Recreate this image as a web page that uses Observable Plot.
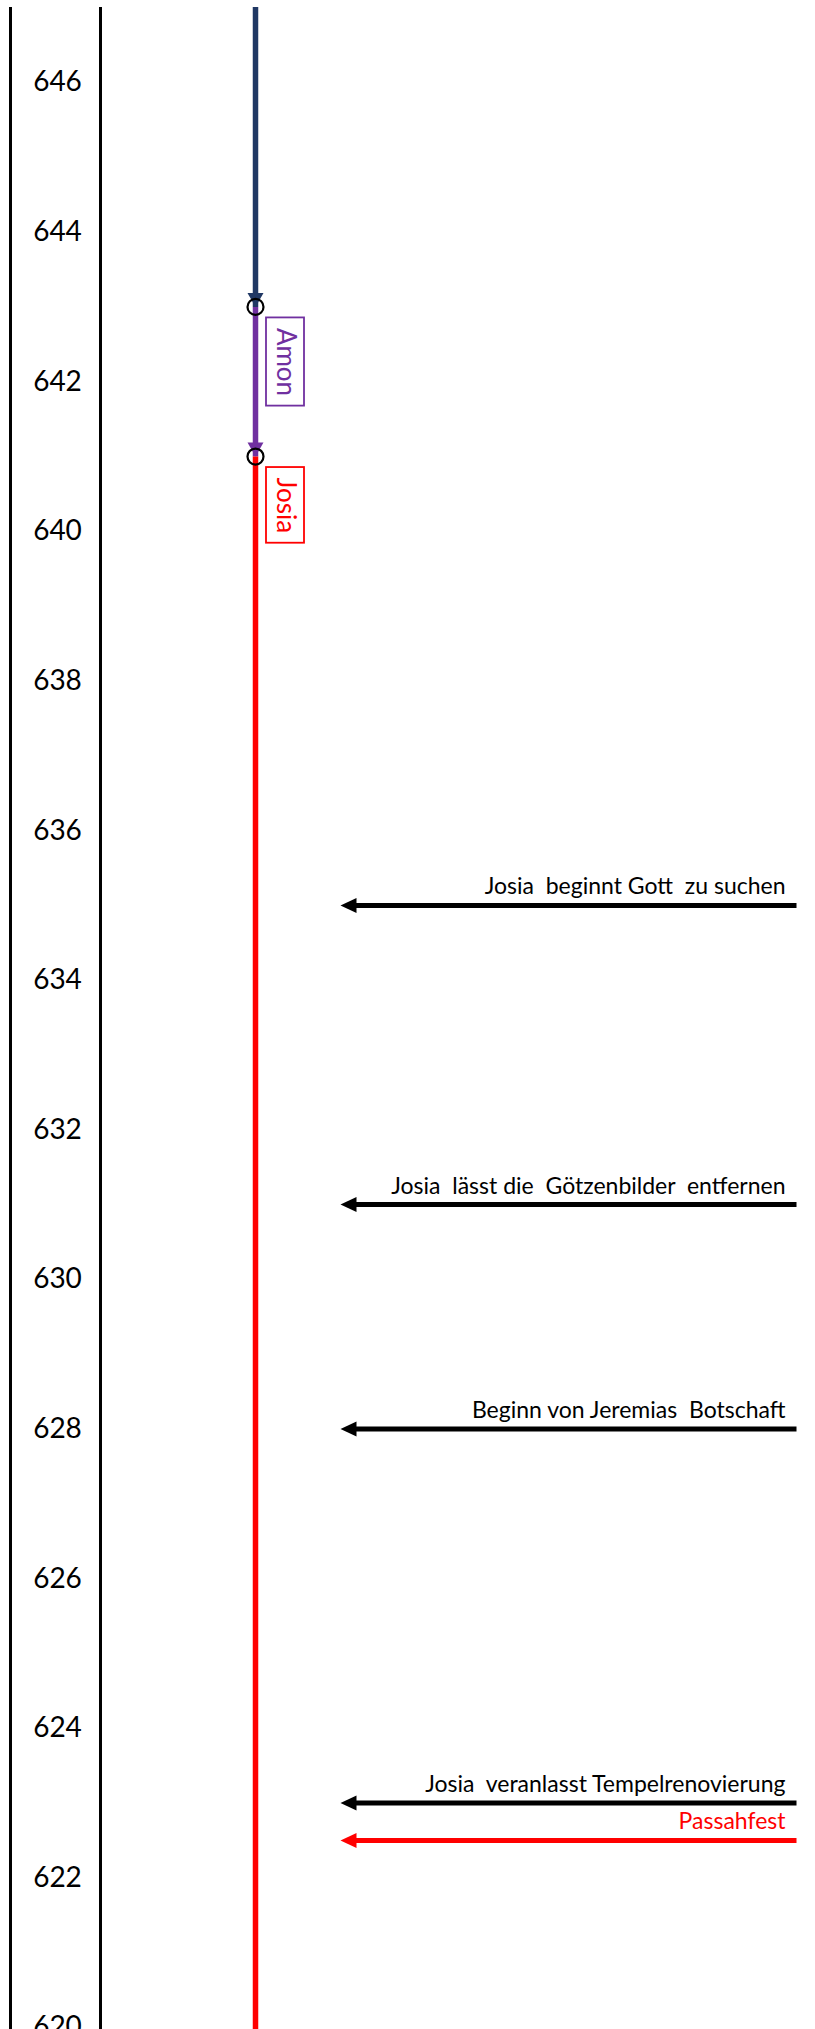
<!DOCTYPE html>
<html>
<head>
<meta charset="utf-8">
<script src="https://cdn.jsdelivr.net/npm/d3@7"></script>
<script src="https://cdn.jsdelivr.net/npm/@observablehq/plot@0.6"></script>
<style>
  html, body { margin: 0; padding: 0; background: #ffffff; }
  #chart svg { display: block; }
</style>
</head>
<body>
<div id="chart"></div>
<script>
// ---------- DATA ----------
const yearTicks = [646, 644, 642, 640, 638, 636, 634, 632, 630, 628, 626, 624, 622, 620];

const reignNames   = ["", "Amon", "Josia"];          // first (blue) reign is unlabeled
const reignStart   = [650, 643, 641];
const reignEnd     = [643, 641, 609];
const reignColors  = ["#203864", "#7030A0", "#FF0000"];
const reignArrow   = [true, true, false];

const eventLabels = [
  "Josia  beginnt Gott  zu suchen",
  "Josia  lässt die  Götzenbilder  entfernen",
  "Beginn von Jeremias  Botschaft",
  "Josia  veranlasst Tempelrenovierung",
  "Passahfest"
];
const eventYears  = [635, 631, 628, 623, 622.5];
const eventColors = ["#000000", "#000000", "#000000", "#000000", "#FF0000"];

// ---------- LAYOUT / STYLE ----------
const W = 815, H = 2029;
const LAYOUT = {
  frameRules: [10, 100],
  laneX: 255,
  boxX1: 266, boxX2: 304, labelX: 285,
  arrowTipX: 340, arrowEndX: 796, textEndX: 785
};
const FONT = "Lato";
const reignFontSize = 26;

// tables built from the arrays
const reigns = reignNames.map((name, i) => ({
  name, start: reignStart[i], end: reignEnd[i], color: reignColors[i], arrow: reignArrow[i]
}));
const transitions = reigns.slice(1).map(r => r.start);
const events = eventLabels.map((label, i) => ({label, year: eventYears[i], color: eventColors[i]}));

// measure label widths for the boxes
const ctx = document.createElement("canvas").getContext("2d");
ctx.font = `${reignFontSize}px ${FONT}`;
const boxPad = 10, labelOffset = 11;

const labelled = reigns.filter(r => r.name);
const boxMarks = labelled.map(r => {
  const len = ctx.measureText(r.name).width + 2 * boxPad;
  return Plot.rect([r], {
    x1: LAYOUT.boxX1, x2: LAYOUT.boxX2,
    y1: "start", y2: "start",
    insetTop: labelOffset, insetBottom: -(labelOffset + len),
    fill: "white", stroke: "color", strokeWidth: 1.8
  });
});

const chart = Plot.plot({
  width: W,
  height: H,
  marginTop: 7,
  marginBottom: 0,
  marginLeft: 57,
  marginRight: 0,
  style: {fontFamily: FONT, background: "#ffffff", color: "#000"},
  x: {domain: [0, W], range: [0, W], axis: null},
  y: {domain: [646, 620], range: [82, 2027]},
  color: {type: "identity"},
  marks: [
    Plot.ruleX(LAYOUT.frameRules, {stroke: "#000", strokeWidth: 3}),
    Plot.axisY(yearTicks, {
      anchor: "left", tickSize: 0, tickPadding: 0, textAnchor: "middle",
      fontSize: 28, tickFormat: d => String(d), label: null, fill: "#000"
    }),
    // reign lines
    Plot.link(reigns, {
      x1: LAYOUT.laneX, x2: LAYOUT.laneX, y1: "start", y2: "end",
      stroke: "color", strokeWidth: 5.5, clip: "frame"
    }),
    Plot.vector(reigns.filter(r => r.arrow), {
      x: LAYOUT.laneX, y: "end", rotate: 180, length: 14, r: 8,
      shape: "spike", anchor: "end", fill: "color", stroke: "none"
    }),
    Plot.dot(transitions, {
      x: LAYOUT.laneX, y: d => d, r: 8, stroke: "#000", strokeWidth: 2.2, fill: "none"
    }),
    // reign labels in boxes
    ...boxMarks,
    Plot.text(labelled, {
      x: LAYOUT.labelX, y: "start", text: "name", rotate: 90,
      textAnchor: "start", lineAnchor: "middle", dy: labelOffset + boxPad,
      fill: "color", fontSize: reignFontSize
    }),
    // events
    Plot.link(events, {
      x1: LAYOUT.arrowEndX, x2: LAYOUT.arrowTipX + 12, y1: "year", y2: "year",
      stroke: "color", strokeWidth: 5
    }),
    Plot.vector(events, {
      x: LAYOUT.arrowTipX, y: "year", rotate: -90, length: 16, r: 7.5,
      shape: "spike", anchor: "end", fill: "color", stroke: "none"
    }),
    Plot.text(events, {
      x: LAYOUT.textEndX, y: "year", text: "label", textAnchor: "end",
      lineAnchor: "bottom", dy: -11, fill: "color", fontSize: 23
    })
  ]
});

document.getElementById("chart").appendChild(chart);
</script>
</body>
</html>
